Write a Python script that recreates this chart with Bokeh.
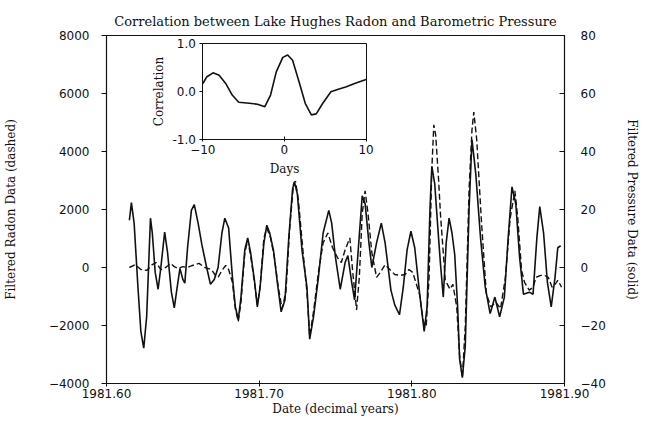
from bokeh.plotting import figure
from bokeh.models import Range1d, LinearAxis, FixedTicker, PrintfTickFormatter
from bokeh.embed import file_html
from bokeh.resources import INLINE

# ---- data ----
p_dates = [1981.6150, 1981.6163, 1981.6181, 1981.6206, 1981.6225, 1981.6244, 1981.6263, 1981.6288,
           1981.6300, 1981.6319, 1981.6338, 1981.6356, 1981.6381, 1981.6400, 1981.6425, 1981.6444,
           1981.6463, 1981.6481, 1981.6500, 1981.6513, 1981.6531, 1981.6556, 1981.6575, 1981.6600,
           1981.6625, 1981.6656, 1981.6681, 1981.6706, 1981.6731, 1981.6756, 1981.6775, 1981.6800,
           1981.6825, 1981.6844, 1981.6863, 1981.6881, 1981.6906, 1981.6925, 1981.6944, 1981.6969,
           1981.6988, 1981.7006, 1981.7031, 1981.7050, 1981.7069, 1981.7094, 1981.7119, 1981.7144,
           1981.7169, 1981.7194, 1981.7219, 1981.7231, 1981.7250, 1981.7281, 1981.7313, 1981.7331,
           1981.7356, 1981.7388, 1981.7419, 1981.7456, 1981.7475, 1981.7500, 1981.7531, 1981.7563,
           1981.7581, 1981.7606, 1981.7625, 1981.7650, 1981.7675, 1981.7694, 1981.7719, 1981.7738,
           1981.7769, 1981.7800, 1981.7825, 1981.7863, 1981.7888, 1981.7919, 1981.7944, 1981.7969,
           1981.7994, 1981.8019, 1981.8050, 1981.8081, 1981.8100, 1981.8119, 1981.8131, 1981.8150,
           1981.8175, 1981.8188, 1981.8206, 1981.8225, 1981.8244, 1981.8263, 1981.8281, 1981.8300,
           1981.8313, 1981.8331, 1981.8350, 1981.8375, 1981.8394, 1981.8419, 1981.8450, 1981.8481,
           1981.8513, 1981.8544, 1981.8575, 1981.8606, 1981.8631, 1981.8656, 1981.8681, 1981.8706,
           1981.8731, 1981.8769, 1981.8794, 1981.8819, 1981.8838, 1981.8863, 1981.8888, 1981.8913,
           1981.8938, 1981.8956, 1981.8975]
pressure = [16.3, 22.4, 15.3, -6.8, -22.0, -27.8, -17.0, 17.0,
            11.9, -1.7, -7.5, 0.0, 12.2, 5.1, -8.5, -13.9,
            -6.8, -0.3, -4.1, -5.4, 6.8, 19.7, 21.7, 15.3,
            7.8, 0.0, -5.8, -4.1, 0.0, 11.9, 17.0, 13.6,
            -3.4, -13.6, -18.0, -10.2, 6.1, 10.2, 5.1, -4.4,
            -13.6, -6.8, 8.5, 14.6, 11.9, 5.8, -5.1, -15.3,
            -11.2, 10.2, 27.1, 29.5, 25.4, 5.8, -6.8, -24.7,
            -17.0, -3.4, 11.9, 19.7, 15.3, 3.4, -7.5, 1.7,
            4.1, -5.1, -11.2, 6.8, 24.7, 22.0, 8.5, 0.0,
            8.5, 15.3, 8.5, -7.8, -12.9, -16.3, -6.8, 6.1,
            12.5, 6.8, -8.5, -22.0, -13.6, 20.3, 34.9, 28.8,
            10.2, 1.0, -10.2, 8.5, 17.0, 11.9, 4.4, -13.6,
            -31.5, -38.0, -27.1, 20.3, 44.1, 32.2, 10.2, -6.8,
            -15.9, -10.2, -17.0, -10.2, 10.2, 27.8, 22.0, 3.4,
            -9.2, -8.5, -9.2, 10.2, 21.0, 11.9, -5.1, -13.6,
            -3.4, 6.8, 7.5]

r_dates = [1981.6150, 1981.6188, 1981.6225, 1981.6263, 1981.6300, 1981.6325, 1981.6356, 1981.6388,
           1981.6419, 1981.6444, 1981.6469, 1981.6500, 1981.6531, 1981.6563, 1981.6606, 1981.6644,
           1981.6688, 1981.6713, 1981.6731, 1981.6756, 1981.6781, 1981.6800, 1981.6825, 1981.6844,
           1981.6863, 1981.6881, 1981.6906, 1981.6925, 1981.6944, 1981.6969, 1981.6988, 1981.7006,
           1981.7031, 1981.7050, 1981.7075, 1981.7100, 1981.7125, 1981.7150, 1981.7175, 1981.7200,
           1981.7225, 1981.7238, 1981.7256, 1981.7288, 1981.7313, 1981.7331, 1981.7356, 1981.7388,
           1981.7419, 1981.7450, 1981.7481, 1981.7513, 1981.7538, 1981.7563, 1981.7594, 1981.7613,
           1981.7638, 1981.7656, 1981.7675, 1981.7694, 1981.7713, 1981.7738, 1981.7769, 1981.7794,
           1981.7825, 1981.7856, 1981.7888, 1981.7925, 1981.7956, 1981.7981, 1981.8006, 1981.8050,
           1981.8075, 1981.8094, 1981.8113, 1981.8131, 1981.8144, 1981.8156, 1981.8175, 1981.8188,
           1981.8219, 1981.8250, 1981.8269, 1981.8294, 1981.8313, 1981.8331, 1981.8350, 1981.8375,
           1981.8394, 1981.8406, 1981.8425, 1981.8456, 1981.8488, 1981.8519, 1981.8550, 1981.8581,
           1981.8613, 1981.8644, 1981.8675, 1981.8694, 1981.8719, 1981.8738, 1981.8769, 1981.8794,
           1981.8813, 1981.8844, 1981.8869, 1981.8894, 1981.8919, 1981.8944, 1981.8956, 1981.8981]
radon = [0, 100, -70, -100, 100, 170, -70, 0,
         140, 30, -30, 30, 0, 70, 140, 0,
         -70, -270, -340, -100, 70, -70, -510, -1420,
         -1860, -1190, 510, 950, 410, -510, -1290, -680,
         1020, 1360, 1020, 340, -680, -1420, -850, 1360,
         2880, 2980, 2370, 510, -850, -2370, -1530, -170,
         850, 1190, 680, 340, 170, 610, 1020, -170,
         -1460, -340, 1860, 2640, 1860, 510, -340, -170,
         100, -70, -240, -270, -240, -70, -170, -920,
         -1860, -2030, -340, 3390, 4920, 4580, 3050, 1800,
         -440, -750, -580, -1360, -3050, -3800, -2030, 2710,
         4750, 5360, 4410, 1590, -920, -1360, -1190, -1420,
         -340, 1700, 2640, 1700, -100, -510, -780, -680,
         -340, -270, -270, -340, -680, -540, -440, -680]

lag_days = [-10, -9.5, -8.75, -8.0, -7.2, -6.4, -5.6, -4.3, -3.3, -2.4, -1.7, -1.0, -0.2,
            0.4, 1.0, 1.8, 2.55, 3.3, 3.9, 4.7, 5.7, 6.6, 7.6, 8.6, 10]
correlation = [0.17, 0.31, 0.39, 0.34, 0.17, -0.07, -0.22, -0.24, -0.26, -0.31, -0.07, 0.41, 0.71,
               0.76, 0.65, 0.20, -0.24, -0.48, -0.46, -0.24, 0.0, 0.05, 0.10, 0.17, 0.25]

date_ticks = [1981.60, 1981.70, 1981.80, 1981.90]
radon_ticks = [-4000, -2000, 0, 2000, 4000, 6000, 8000]
pressure_ticks = [-40, -20, 0, 20, 40, 60, 80]
lag_ticks = [-10, 0, 10]
corr_ticks = [-1.0, 0.0, 1.0]

TICK_FONT = "DejaVu Sans"
LABEL_FONT = "DejaVu Serif"
INK = "#111111"

p = figure(width=641, height=418,
           x_range=Range1d(1981.60, 1981.90), y_range=Range1d(-4000, 8000),
           x_axis_type=None, y_axis_type=None,
           output_backend="svg", toolbar_location=None,
           min_border_left=92, min_border_right=69, min_border_top=35, min_border_bottom=30)
p.extra_y_ranges = {"pres": Range1d(-40, 80), "iy": Range1d(-6.041, 1.163)}
p.extra_x_ranges = {"ix": Range1d(-21.81, 34.33)}
p.outline_line_color = INK
p.outline_line_width = 1.2
p.background_fill_color = "white"
p.border_fill_color = "white"

p.title.text = "Correlation between Lake Hughes Radon and Barometric Pressure"
p.title.align = "center"
p.title.text_font = LABEL_FONT
p.title.text_font_size = "13px"
p.title.text_font_style = "normal"
p.title.text_color = INK
p.title.standoff = 14


def style_axis(ax, size="12px"):
    ax.major_label_text_font = TICK_FONT
    ax.major_label_text_font_size = size
    ax.major_label_text_color = INK
    ax.axis_label_text_font = LABEL_FONT
    ax.axis_label_text_font_size = "12px"
    ax.axis_label_text_font_style = "normal"
    ax.axis_label_text_color = INK
    ax.axis_line_color = INK
    ax.major_tick_line_color = INK
    ax.minor_tick_line_color = None


xa = LinearAxis(ticker=FixedTicker(ticks=date_ticks), formatter=PrintfTickFormatter(format="%.2f"),
                axis_label="Date (decimal years)")
style_axis(xa)
xa.major_tick_in = 3
xa.major_tick_out = 3
xa.major_label_standoff = 2
xa.axis_label_standoff = 1
p.add_layout(xa, "below")

ya = LinearAxis(ticker=FixedTicker(ticks=radon_ticks), axis_label="Filtered Radon Data (dashed)")
style_axis(ya)
ya.major_tick_in = 0
ya.major_tick_out = 5
ya.major_label_standoff = 12
ya.axis_label_standoff = 28
p.add_layout(ya, "left")

yr = LinearAxis(y_range_name="pres", ticker=FixedTicker(ticks=pressure_ticks),
                axis_label="Filtered Pressure Data (solid)")
style_axis(yr)
yr.major_tick_in = 5
yr.major_tick_out = 0
yr.major_label_standoff = 16
yr.axis_label_standoff = 16
p.add_layout(yr, "right")

# main curves
p.line(p_dates, pressure, y_range_name="pres", line_color=INK, line_width=1.6)
p.line(r_dates, radon, line_color=INK, line_width=1.4, line_dash="6 3")

# inset (correlation vs lag)
ib = LinearAxis(x_range_name="ix", y_range_name="iy", fixed_location=-1.0, bounds=(-10, 10),
                ticker=FixedTicker(ticks=lag_ticks), axis_label="Days")
style_axis(ib, "12px")
ib.major_tick_in = 3
ib.major_tick_out = 2
ib.major_label_standoff = 3
ib.axis_label_standoff = 5
p.add_layout(ib, "below")

il = LinearAxis(x_range_name="ix", y_range_name="iy", fixed_location=-10, bounds=(-1, 1),
                ticker=FixedTicker(ticks=corr_ticks), formatter=PrintfTickFormatter(format="%.1f"),
                axis_label="Correlation")
style_axis(il, "12px")
il.major_tick_in = 0
il.major_tick_out = 3
il.major_label_standoff = 4
il.axis_label_standoff = 3
p.add_layout(il, "left")

it = LinearAxis(x_range_name="ix", y_range_name="iy", fixed_location=1.0, bounds=(-10, 10),
                ticker=FixedTicker(ticks=[]))
style_axis(it)
it.major_label_text_font_size = "0px"
p.add_layout(it, "above")

ir = LinearAxis(x_range_name="ix", y_range_name="iy", fixed_location=10, bounds=(-1, 1),
                ticker=FixedTicker(ticks=[]))
style_axis(ir)
ir.major_label_text_font_size = "0px"
p.add_layout(ir, "right")

p.line(lag_days, correlation, x_range_name="ix", y_range_name="iy", line_color=INK, line_width=1.6)

open("out.html", "w").write(file_html(p, INLINE))
